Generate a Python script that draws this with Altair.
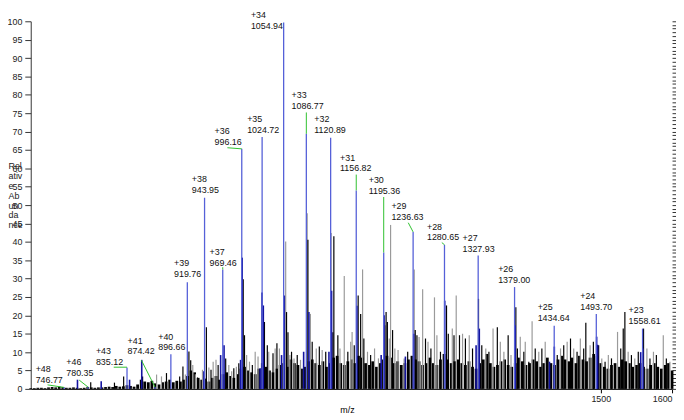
import altair as alt
import pandas as pd

# ---- noise floor of the spectrum (sampled every 5 m/z, 700..1600) ----
floor_start, floor_step = 700, 5
floor_h = [
    0.2,0.2,0.3,0.3,0.2,0.4,0.5,0.4,0.6,0.5,0.3,0.3,0.4,0.3,0.2,0.3,0.5,0.4,0.3,0.4,
    0.4,0.5,0.6,0.5,0.8,0.6,0.7,1.0,0.8,0.6,1.2,2.5,2.0,1.8,2.2,1.5,1.2,1.8,2.0,2.5,
    1.8,2.2,2.0,2.5,3.5,5.0,4.5,3.0,2.5,2.8,2.0,3.0,3.5,2.5,4.0,4.5,3.5,3.0,4.0,5.5,
    6.0,5.0,4.5,4.0,5.5,7.0,6.0,5.0,4.5,5.5,6.5,7.0,6.0,8.0,7.0,6.5,5.5,6.0,7.5,8.0,
    7.0,6.5,7.5,6.0,7.0,8.5,9.0,7.0,6.5,7.5,8.0,7.0,9.0,8.5,7.0,6.5,7.5,6.0,7.0,8.0,
    9.0,8.5,7.0,7.5,6.5,7.0,8.0,9.0,8.0,7.5,6.5,7.0,8.5,7.0,6.5,8.0,9.5,8.0,7.0,7.5,
    8.0,7.0,6.5,7.5,6.0,5.5,7.0,8.0,9.5,7.0,6.0,6.5,7.5,8.0,6.5,6.0,7.0,8.5,7.5,6.5,
    7.0,8.0,7.5,6.0,7.0,8.5,7.0,6.5,8.0,9.0,8.0,7.5,8.5,7.0,9.0,8.0,7.5,8.5,9.5,9.0,
    7.0,6.0,5.5,6.5,7.0,6.0,8.0,7.5,7.0,6.0,6.5,7.0,6.0,5.5,6.5,7.0,6.0,5.5,6.5,7.0,5.0,
]
floor_mz = [floor_start + floor_step * i for i in range(len(floor_h))]

# ---- grey spikes ----
grey_mz = [876.6,883.5,917,927.4,931,941,950,956,960,978,982,988.6,1003,1007,1015,1019,1034,1043,1049,
           1057.8,1063.7,1069.5,1078.6,1088,1092.5,1100.7,1109,1121.7,1134,1140,1149,1151,1165.7,1172.6,
           1182.5,1188,1203.2,1205,1211,1215.5,1224,1238.2,1245,1250,1257.5,1266.6,1270,1291.6,1297.1,
           1306,1315.4,1338.6,1348.8,1359,1364,1374,1387,1394,1403.6,1413,1422,1443.5,1452.8,1462,
           1471.3,1485,1501.4,1510.6,1523.5,1538.4,1547.7,1564.7,1573.9,1587.7,1597]
grey_h = [3.9,3.4,3.9,6.5,4.0,5.2,5.8,7.4,7.9,6.5,4.8,6.0,9.2,7.4,10.1,8.8,10.1,11.0,11.0,
          40.1,9.2,8.3,7.9,47.8,20.4,11.0,10.6,42.4,11.0,30.7,12.8,15.5,32.5,10.1,
          11.0,8.3,13.7,44.6,11.0,10.6,8.3,32.5,14.1,27.1,12.8,24.9,14.6,16.4,25.4,
          15.0,14.6,11.0,16.4,12.8,10.1,9.2,14.2,12.8,18.4,10.1,12.8,11.0,12.8,11.0,
          13.7,11.9,8.3,9.2,15.5,10.1,8.3,11.0,10.1,14.6,7.4]

# ---- black spikes ----
black_mz = [784.2,817.5,830.4,857,890.5,909,913.6,922,924.5,934,946.5,953,963,973.6,985,992,998.2,1000,
            1011,1028,1032,1040,1045.5,1059,1061,1066,1074,1089,1095,1105,1114,1124,1125.4,1131,1145,
            1154,1159.5,1163,1167.5,1177,1196.8,1198.7,1200.5,1207.8,1229,1239.6,1242,1254,1261.6,1275,
            1283.5,1286,1294,1301.7,1310,1320,1328.4,1333,1343,1354.8,1370,1380.8,1383,1392,1399,1408,
            1417.3,1438.9,1448,1457.5,1466.7,1476,1479,1489.6,1497,1506,1515,1528,1531.5,1533.8,1543,
            1552.6,1560,1569,1578,1592]
black_h = [1.8,1.7,3.4,3.4,4.3,3.4,6.1,10.2,7.8,3.1,16.8,5.2,6.5,8.3,5.6,7.0,29.8,14.6,
           6.5,18.2,11.9,9.7,12.4,20.9,15.4,10.1,9.2,40.6,12.8,11.5,10.1,15.4,41.5,14.6,10.1,
           11.9,25.4,20.4,13.7,9.2,17.3,20.9,18.2,16.0,10.1,16.0,14.6,13.7,11.0,10.1,
           22.7,15.0,14.6,14.6,13.7,11.0,24.5,11.9,10.1,16.8,14.6,22.2,11.0,10.1,7.4,11.0,
           11.0,9.2,11.9,13.7,10.1,11.0,18.0,12.8,11.9,7.4,8.3,11.0,16.4,20.9,9.2,
           10.1,16.4,8.3,9.2,8.3]

# ---- dark-blue isotope shoulders ----
shoulder_mz = [765.6,798.9,838.7,855.8,943,966.5,971.3,994.5,996.8,1022,1024.6,1026.4,1052,1055.8,1083,
               1090.4,1118.5,1122.2,1157.7,1191.8,1196,1225.8,1237.5,1281,1325,1329.5,1379.9,1428,1434.8,
               1494.2,1495.5,1556,1559]
shoulder_h = [2.5,2.1,2.5,7.9,4.8,9.2,11.9,7.9,35.7,5.6,26.2,22.7,9.2,25.4,10.1,
              20.9,10.1,26.7,22.6,9.2,20.0,8.8,15.0,24.0,11.9,16.4,17.3,7.4,11.5,
              14.2,12.0,10.0,11.0]

# ---- labelled charge-state peaks ----
charges = ["+48","+46","+43","+41","+40","+39","+38","+37","+36","+35","+34",
           "+33","+32","+31","+30","+29","+28","+27","+26","+25","+24","+23"]
peak_mz = [746.77,780.35,835.12,874.42,896.66,919.76,943.95,969.46,996.16,1024.72,1054.94,
           1086.77,1120.89,1156.82,1195.36,1236.63,1280.65,1327.93,1379.00,1434.64,1493.70,1558.61]
peak_h = [0.5,0.6,5.8,0.5,9.4,29.0,52.0,32.5,65.3,68.5,99.7,
          69.4,68.3,54.0,37.1,42.7,39.2,36.3,27.7,17.2,20.4,16.4]
label_mz = [706.9,749.9,791.5,835.9,878.9,901.1,926.1,951.0,958.0,1003.7,1009.0,
            1066.1,1098.0,1134.1,1174.3,1206.2,1256.1,1306.0,1356.0,1411.4,1471.1,1539.0]
label_h = [1.3,3.2,6.2,9.1,10.2,30.1,53.0,33.1,66.1,69.4,97.6,
           75.8,69.4,58.9,52.7,45.7,40.1,37.1,28.5,18.3,21.2,17.5]

# ---- green label connectors ----
conn_from_mz = [723.6,768.0,816.5,855.3,969.46,976.0,1086.77,1156.82,1195.36,1229.8,1276.9]
conn_from_h = [1.1,2.4,5.9,7.8,33.1,65.6,75.2,58.3,52.2,45.2,39.8]
conn_to_mz = [746.77,780.35,835.12,874.42,969.46,996.16,1086.77,1156.82,1195.36,1236.63,1280.65]
conn_to_h = [0.4,0.5,5.9,0.5,32.5,65.3,69.4,54.0,37.1,42.7,39.2]

y_major = list(range(0, 101, 5))
y_minor = list(range(0, 101, 1))
x_ticks = [1500, 1600]

floor_df = pd.DataFrame({"mz": floor_mz, "h": floor_h})
grey_df = pd.DataFrame({"mz": grey_mz, "h": grey_h})
black_df = pd.DataFrame({"mz": black_mz, "h": black_h})
sh_df = pd.DataFrame({"mz": shoulder_mz, "h": shoulder_h})
peak_df = pd.DataFrame({"charge": charges, "mz": peak_mz, "h": peak_h,
                        "lmz": label_mz, "lh": label_h,
                        "mztxt": [f"{v:.2f}" for v in peak_mz]})
conn_df = pd.DataFrame({"x1": conn_from_mz, "y1": conn_from_h, "x2": conn_to_mz, "y2": conn_to_h})

FONT = "Liberation Sans"
xs = alt.Scale(domain=[700, 1600], nice=False, zero=False)
ys = alt.Scale(domain=[0, 100], nice=False, zero=True)

x_axis = alt.Axis(values=x_ticks, format="d", title="m/z", titleFontSize=9, titleFontWeight="normal",
                  titleFont=FONT, titleX=320, titlePadding=2, labelFont=FONT, labelFontSize=9,
                  labelColor="#222", tickColor="#000", tickSize=4, domainColor="#000",
                  labelPadding=2, grid=False, labelFlush=True)
y_axis = alt.Axis(values=y_major, title=["Rel", "ativ", "e", "Ab", "un", "da", "nce"],
                  titleAngle=0, titleAlign="left", titleBaseline="top", titleX=-23, titleY=142,
                  titleFontSize=9, titleFontWeight="normal", titleFont=FONT, titleLineHeight=10,
                  titleColor="#222",
                  labelFont=FONT, labelFontSize=9, labelColor="#222", tickSize=6,
                  tickColor="#333", domainColor="#333", grid=False, labelPadding=3)
y_axis_minor = alt.Axis(values=y_minor, labels=False, title=None, tickSize=4,
                        tickColor="#333", domain=False, grid=False)

base_x = alt.X("mz:Q", scale=xs, axis=None)

floor = alt.Chart(floor_df).mark_rule(color="#000", strokeWidth=2.8).encode(
    x=alt.X("mz:Q", scale=xs, axis=x_axis),
    y=alt.Y("h:Q", scale=ys, axis=y_axis),
    y2=alt.datum(0),
)
minor = alt.Chart(floor_df).mark_rule(opacity=0).encode(
    x=base_x, y=alt.Y("h:Q", scale=ys, axis=y_axis_minor), y2=alt.datum(0))

grey = alt.Chart(grey_df).mark_rule(color="#9a9a9a", strokeWidth=1.2).encode(
    x=base_x, y=alt.Y("h:Q", scale=ys, axis=None), y2=alt.datum(0))
black = alt.Chart(black_df).mark_rule(color="#000", strokeWidth=1.2).encode(
    x=base_x, y=alt.Y("h:Q", scale=ys, axis=None), y2=alt.datum(0))
shoulder = alt.Chart(sh_df).mark_rule(color="#1414a0", strokeWidth=1.6).encode(
    x=base_x, y=alt.Y("h:Q", scale=ys, axis=None), y2=alt.datum(0))
peaks = alt.Chart(peak_df).mark_rule(color="#5560d8", strokeWidth=1.3).encode(
    x=base_x, y=alt.Y("h:Q", scale=ys, axis=None), y2=alt.datum(0))
conns = alt.Chart(conn_df).mark_rule(color="#2ec02e", strokeWidth=1).encode(
    x=alt.X("x1:Q", scale=xs, axis=None), x2="x2:Q",
    y=alt.Y("y1:Q", scale=ys, axis=None), y2="y2:Q")

mz_text = alt.Chart(peak_df).mark_text(align="left", baseline="bottom", font=FONT,
                                       fontSize=9, color="#111", dy=1).encode(
    x=alt.X("lmz:Q", scale=xs, axis=None), y=alt.Y("lh:Q", scale=ys, axis=None), text="mztxt:N")
ch_text = alt.Chart(peak_df).mark_text(align="left", baseline="bottom", font=FONT,
                                       fontSize=9, color="#111", dy=-10).encode(
    x=alt.X("lmz:Q", scale=xs, axis=None), y=alt.Y("lh:Q", scale=ys, axis=None), text="charge:N")

chart = alt.layer(floor, minor, grey, black, shoulder, peaks, conns, mz_text, ch_text).resolve_axis(
    x="independent", y="independent"
).properties(
    width=649, height=372,
    padding={"left": 23, "top": 11, "right": 4, "bottom": 26},
    autosize=alt.AutoSizeParams(type="none"),
    background="#ffffff",
).configure_view(stroke=None)

chart.save("out.html", embed_options={"renderer": "svg", "actions": False})
